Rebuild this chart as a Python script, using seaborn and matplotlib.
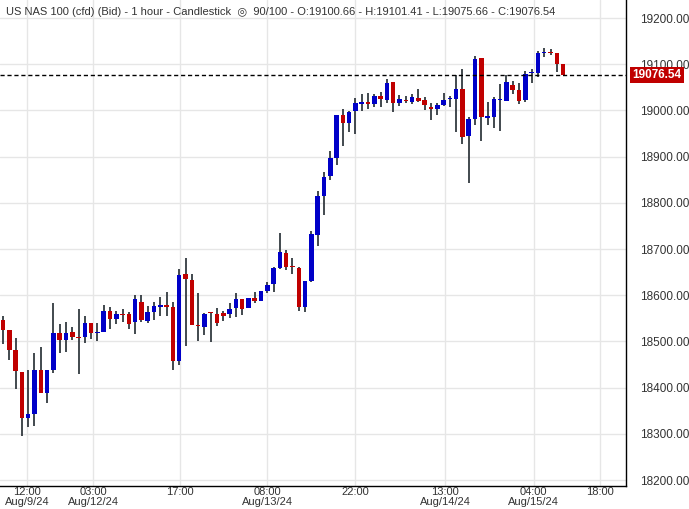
import matplotlib
matplotlib.use("Agg")
import matplotlib.pyplot as plt
import seaborn as sns
import numpy as np
import pandas as pd

opens = [18546,18525,18481,18435,18334,18342,18438,18388,18438,18518,18504,18520,18509,18510,18540,18518,18521,18566,18549,18559,18559,18543,18586,18545,18564,
         18575,18580,18575,18457,18645,18634,18534,18532,18562,18560,18562,18559,18572,18591,18572,18595,18587,18610,18624,18660,18691,18662,18660,18575,18630,
         18731,18815,18858,18897,18990,18973,18999,19015,19016,19014,19032,19023,19061,19017,19022,19019,19027,19022,19007,19004,19012,19024,19025,19046,
         18945,18981,19113,18983,18986,19023,19020,19055,19044,19022,19080,19081,19124,19126,19124,19100.66]
highs = [18555,18525,18507,18435,18438,18475,18488,18438,18583,18538,18542,18532,18570,18555,18540,18540,18579,18575,18566,18570,18564,18600,18600,18576,18586,
         18597,18606,18586,18656,18680,18645,18604,18562,18564,18573,18567,18584,18604,18591,18595,18606,18610,18628,18662,18734,18697,18680,18662,18630,18738,
         18825,18866,18912,18990,19003,18999,19027,19035,19038,19035,19040,19068,19061,19033,19031,19035,19046,19029,19017,19017,19038,19031,19077,19090,
         18986,19117,19113,19018,19029,19057,19076,19063,19059,19085,19089,19128,19135,19132,19124,19101.41]
lows = [18494,18460,18398,18296,18314,18317,18388,18367,18432,18475,18477,18503,18430,18497,18506,18500,18521,18528,18538,18543,18526,18517,18543,18540,18547,
        18556,18556,18439,18448,18491,18535,18502,18513,18498,18533,18545,18550,18554,18557,18572,18583,18587,18604,18607,18656,18654,18646,18567,18564,18628,
        18707,18774,18850,18882,18923,18953,18949,18998,19004,19008,19008,19017,18997,19010,19017,19014,19019,19001,18980,18991,19010,19008,18954,18928,
        18843,18968,18934,18968,18962,18955,19020,19035,19014,19018,19059,19072,19115,19119,19083,19075.66]
closes = [18525,18482,18436,18334,18342,18438,18388,18438,18518,18504,18518,18510,18508,18540,18519,18520,18566,18549,18559,18558,18538,18592,18547,18564,18577,
          18580,18575,18457,18643,18635,18536,18533,18560,18561,18541,18556,18571,18591,18570,18595,18587,18610,18623,18660,18693,18662,18661,18575,18630,18732,
          18814,18856,18896,18990,18973,18996,19016,19016,19015,19031,19025,19059,19017,19025,19021,19029,19021,19012,19004,19012,19022,19025,19046,18943,
          18981,19111,18986,18988,19024,19024,19061,19044,19020,19078,19081,19124,19125,19124,19100,19076.54]

tick_pos = [3.8, 14.3, 28.1, 42.0, 56.0, 70.3, 84.3, 94.8]
tick_labels = ["12:00\nAug/9/24", "03:00\nAug/12/24", "17:00", "08:00\nAug/13/24",
               "22:00", "13:00\nAug/14/24", "04:00\nAug/15/24", "18:00"]
yticks = list(range(18200, 19201, 100))

df = pd.DataFrame({"o": opens, "h": highs, "l": lows, "c": closes})
df["i"] = np.arange(len(df))
df["up"] = df["c"] >= df["o"]

sns.set_style("white")
plt.rcParams['font.family'] = ['Liberation Sans', 'DejaVu Sans']

fig = plt.figure(figsize=(6.89, 5.09), dpi=100)
ax = fig.add_axes([0, 0.045, 0.9086, 0.955])

ax.vlines(df["i"], df["l"], df["h"], color="#333a40", lw=1.3, zorder=2)
colors = np.where(df["up"], "#0000c8", "#c00000")
bottom = np.minimum(df["o"], df["c"])
height = np.maximum(np.abs(df["c"] - df["o"]), 2.5)
ax.bar(df["i"], height, bottom=bottom, width=0.72, color=colors, zorder=3, linewidth=0)

last = closes[-1]
ax.axhline(last, color="black", ls=(0, (3, 2)), lw=1, zorder=4)

ax.set_xlim(-0.48, 99.0)
ax.set_ylim(18187, 19239)
ax.set_xticks(tick_pos)
ax.set_xticklabels(tick_labels, fontsize=8, color="#333333", linespacing=0.9)
ax.set_yticks(yticks)
ax.set_yticklabels([f"{v:.2f}" for v in yticks], fontsize=8.5, color="#333333")
ax.yaxis.tick_right()
ax.tick_params(axis="x", length=0, pad=1)
ax.tick_params(axis="y", length=0, pad=10)
ax.grid(True, color="#e6e6e6", lw=1)
ax.set_axisbelow(True)
for s in ["top", "left"]:
    ax.spines[s].set_visible(False)
for s in ["right", "bottom"]:
    ax.spines[s].set_color("black")
    ax.spines[s].set_linewidth(1)

ax.text(1.01, last, f"{last:.2f}", transform=ax.get_yaxis_transform(), fontsize=8.5,
        color="white", fontweight="bold", va="center", ha="left",
        bbox=dict(boxstyle="square,pad=0.2", fc="#c00000", ec="none"), zorder=5)

ax.text(0.01, 0.985, "US NAS 100 (cfd) (Bid) - 1 hour - Candlestick  ◎  90/100 - O:19100.66 - H:19101.41 - L:19075.66 - C:19076.54",
        transform=ax.transAxes, fontsize=8, color="#333333", va="top", ha="left")

fig.savefig("out.png", dpi=100)
